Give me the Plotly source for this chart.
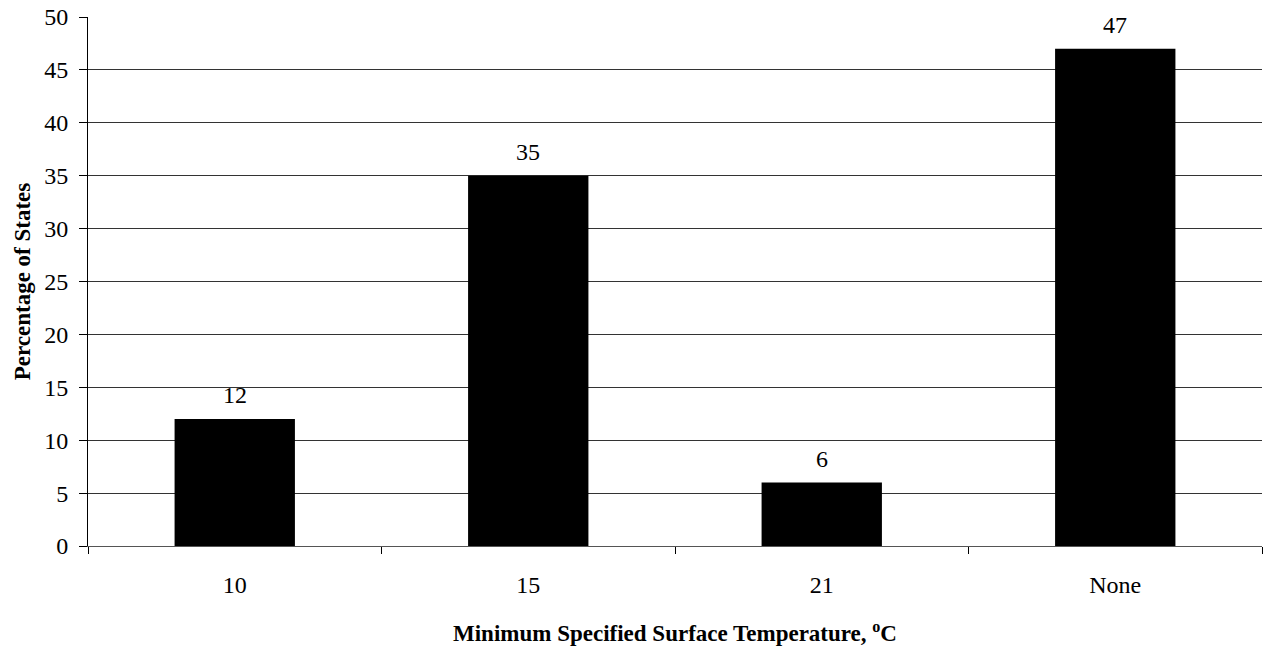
import plotly.graph_objects as go

categories = ["10", "15", "21", "None"]
values = [12, 35, 6, 47]
y_ticks = [0, 5, 10, 15, 20, 25, 30, 35, 40, 45, 50]

FONT = "Liberation Serif"

fig = go.Figure()
fig.add_trace(go.Bar(
    x=categories, y=values,
    marker=dict(color="black", line=dict(color="black", width=0)),
    width=0.41,
    hoverinfo="x+y",
))

for i, v in enumerate(values):
    fig.add_annotation(x=i, y=v, xref="x", yref="y", text=str(v), showarrow=False,
                       yanchor="bottom", yshift=9,
                       font=dict(family=FONT, size=24, color="black"))

fig.update_layout(
    width=1263, height=650,
    margin=dict(l=88, r=1, t=17, b=104),
    plot_bgcolor="white", paper_bgcolor="white",
    showlegend=False,
    font=dict(family=FONT, size=24, color="black"),
)
fig.update_xaxes(
    type="category", range=[-0.5, 3.5], automargin=False,
    showline=True, linecolor="#555", linewidth=1,
    ticks="outside", tickson="boundaries", ticklen=7, tickcolor="black",
    showgrid=False,
    tickfont=dict(family=FONT, size=24),
    ticklabelstandoff=17,
    title=dict(text="<b>Minimum Specified Surface Temperature, <sup>o</sup>C</b>",
               font=dict(family=FONT, size=23), standoff=28),
)
fig.update_yaxes(
    range=[0, 50], tickvals=y_ticks, automargin=False,
    showline=True, linecolor="black", linewidth=1,
    ticks="outside", ticklen=8, tickcolor="black",
    showgrid=True, gridcolor="#333", gridwidth=1,
    zeroline=False,
    tickfont=dict(family=FONT, size=24),
    ticklabelstandoff=6,
    title=dict(text="<b>Percentage of States</b>",
               font=dict(family=FONT, size=23), standoff=7),
)

fig.write_html("out.html", config={"displayModeBar": False},
               post_script="document.body.style.margin='0';")
